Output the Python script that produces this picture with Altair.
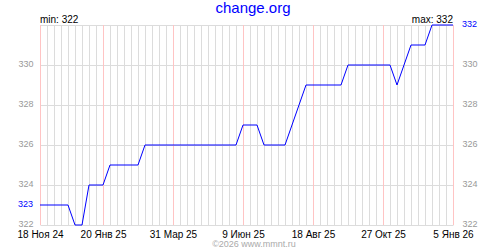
import altair as alt
import pandas as pd

# weekly values, starting 18 Nov 2024
start_date = "2024-11-18"
values = [323, 323, 323, 323, 323, 322, 322, 324, 324, 324,
          325, 325, 325, 325, 325, 326, 326, 326, 326, 326,
          326, 326, 326, 326, 326, 326, 326, 326, 326, 327,
          327, 327, 326, 326, 326, 326, 327, 328, 329, 329,
          329, 329, 329, 329, 330, 330, 330, 330, 330, 330,
          330, 329, 330, 331, 331, 331, 332, 332, 332, 332]
dates = pd.date_range(start_date, periods=len(values), freq="7D").strftime("%Y-%m-%d").tolist()

tick_dates = ["2024-11-18", "2025-01-20", "2025-03-31", "2025-06-09",
              "2025-08-18", "2025-10-27", "2026-01-05"]
tick_labels = ["18 Ноя 24", "20 Янв 25", "31 Мар 25", "9 Июн 25",
               "18 Авг 25", "27 Окт 25", "5 Янв 26"]
y_ticks = [322, 324, 326, 328, 330, 332]
y_domain = [322, 332]

title_text = "change.org"
credit_text = "©2026 www.mmnt.ru"

W, H = 413, 200
FONT = "Liberation Sans"
GRID = "#dcdcdc"
PINK = "#ffc4c4"
BLUE = "#0000ff"
GRAY = "#999999"


def dt(s):
    y, m, d = (int(p) for p in s.split("-"))
    return alt.DateTime(year=y, month=m, date=d, utc=True)


df = pd.DataFrame({"date": dates, "value": values})
ticks_df = pd.DataFrame({"date": tick_dates, "label": tick_labels})
first_df = pd.DataFrame({"value": [values[0]]})
last_df = pd.DataFrame({"value": [values[-1]]})

label_expr = "".join(
    f"utcFormat(datum.value, '%Y-%m-%d') == '{d}' ? '{l}' : " for d, l in zip(tick_dates, tick_labels)
) + "''"

xscale = alt.Scale(type="utc", domain=[dt(dates[0]), dt(dates[-1])])


def yscale():
    return alt.Scale(domain=y_domain, nice=False, zero=False)


x_axis = alt.Axis(values=[dt(d) for d in tick_dates], labelExpr=label_expr, title=None,
                  grid=False, ticks=False, domain=False, labelFont=FONT, labelFontSize=10,
                  labelColor="#000000", labelPadding=4, labelOverlap=False, labelFlush=False,
                  labelBound=False)

common_y = dict(values=y_ticks, title=None, ticks=False, domain=False, labelFont=FONT,
                labelFontSize=9, labelColor=GRAY, labelOverlap=False, labelBound=False,
                labelFlush=False, labelOffset=-1.5,
                labelExpr=f"datum.value == {y_ticks[-1]} ? '' : datum.label")
y_left = alt.Axis(orient="left", grid=True, gridColor=GRID, labelPadding=7, **common_y)
y_right = alt.Axis(orient="right", grid=False, labelPadding=9, **common_y)

base = alt.Chart(df)

# invisible layers that carry the two value axes (left one also draws the horizontal grid)
left_axis = base.mark_point(opacity=0).encode(
    x=alt.X("date:T", scale=xscale, axis=x_axis),
    y=alt.Y("value:Q", scale=yscale(), axis=y_left),
)
right_axis = base.mark_point(opacity=0).encode(
    x=alt.X("date:T", scale=xscale),
    y=alt.Y("value:Q", scale=yscale(), axis=y_right),
)

week_rules = base.mark_rule(stroke=GRID, strokeWidth=1, xOffset=0.5).encode(
    x=alt.X("date:T", scale=xscale)
)
major_rules = alt.Chart(ticks_df).mark_rule(stroke=PINK, strokeWidth=1, xOffset=0.5).encode(
    x=alt.X("date:T", scale=xscale)
)
line = base.mark_line(color=BLUE, strokeWidth=1).encode(
    x=alt.X("date:T", scale=xscale),
    y=alt.Y("value:Q", scale=yscale(), axis=None),
)
first_lbl = alt.Chart(first_df).mark_text(
    align="right", baseline="middle", color=BLUE, font=FONT, fontSize=9, dy=-1
).encode(x=alt.value(-7), y=alt.Y("value:Q", scale=yscale(), axis=None), text="value:Q")
last_lbl = alt.Chart(last_df).mark_text(
    align="left", baseline="middle", color=BLUE, font=FONT, fontSize=9, dy=-1
).encode(x=alt.value(W + 9), y=alt.Y("value:Q", scale=yscale(), axis=None), text="value:Q")

min_txt = alt.Chart(pd.DataFrame({"t": [f"min: {min(values)}"]})).mark_text(
    align="left", baseline="alphabetic", font=FONT, fontSize=10, color="#000000"
).encode(x=alt.value(0), y=alt.value(-2), text="t:N")
max_txt = alt.Chart(pd.DataFrame({"t": [f"max: {max(values)}"]})).mark_text(
    align="right", baseline="alphabetic", font=FONT, fontSize=10, color="#000000"
).encode(x=alt.value(W), y=alt.value(-2), text="t:N")
title = alt.Chart(pd.DataFrame({"t": [title_text]})).mark_text(
    align="center", baseline="alphabetic", font=FONT, fontSize=15, color=BLUE
).encode(x=alt.value(213), y=alt.value(-12), text="t:N")
credit = alt.Chart(pd.DataFrame({"t": [credit_text]})).mark_text(
    align="center", baseline="alphabetic", font=FONT, fontSize=9, color="#aaaaaa"
).encode(x=alt.value(214), y=alt.value(222), text="t:N")

main = alt.layer(week_rules, major_rules, line, first_lbl, last_lbl,
                 min_txt, max_txt, title, credit)

chart = alt.layer(left_axis, main, right_axis).resolve_scale(y="independent").properties(
    width=W, height=H,
    autosize=alt.AutoSizeParams(type="none"),
    padding={"left": 40, "top": 25, "right": 47, "bottom": 25},
    background="white",
).configure_view(stroke=None)

chart.save("out.html", embed_options={"renderer": "svg", "actions": False})
